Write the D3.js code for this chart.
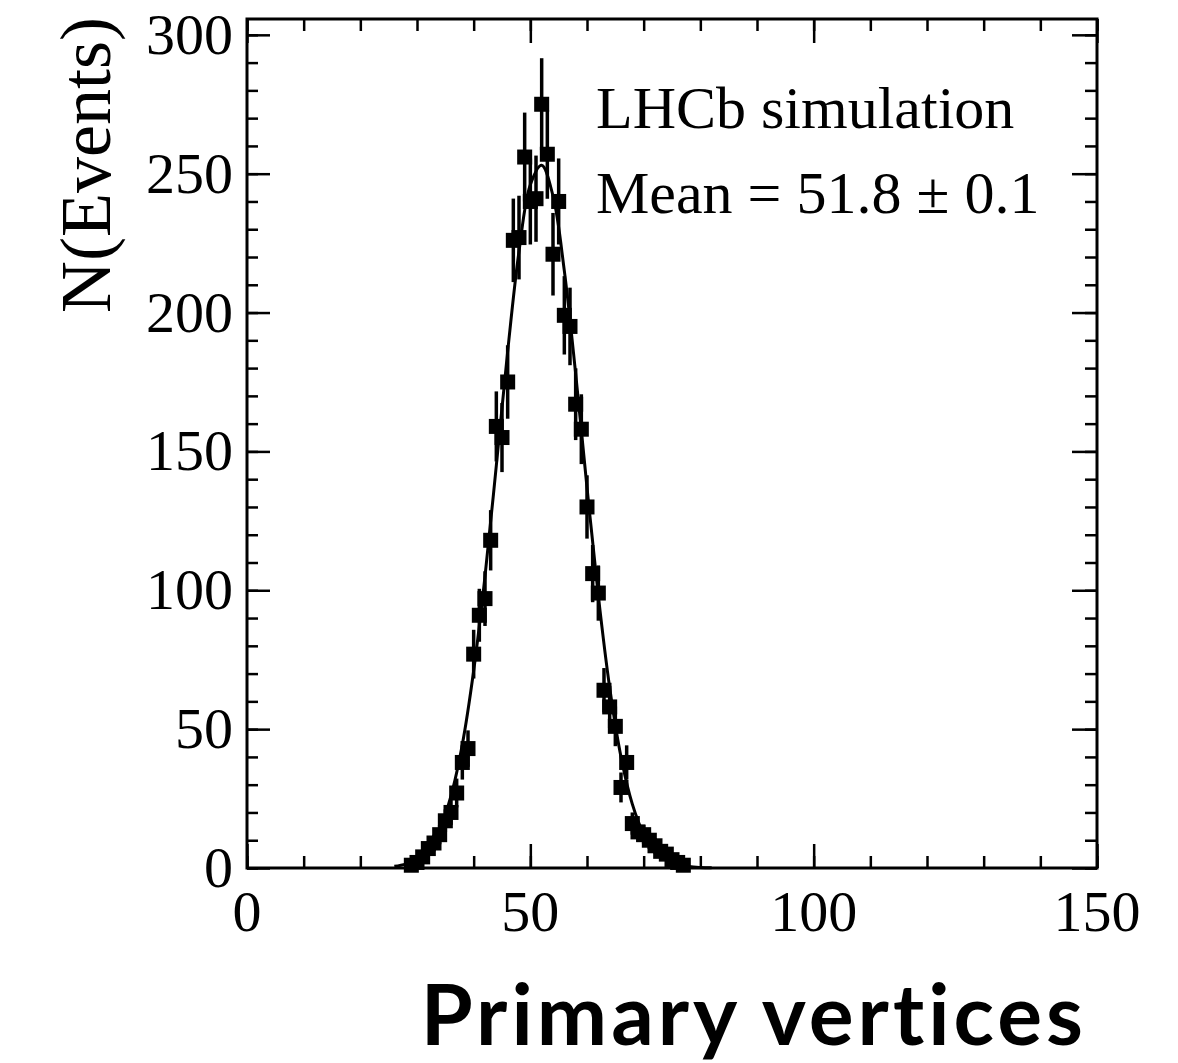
<!DOCTYPE html>
<html>
<head>
<meta charset="utf-8">
<script src="https://cdn.jsdelivr.net/npm/d3@7"></script>
<style>
  body { margin: 0; background: #fff; }
  svg { display: block; }
</style>
</head>
<body>
<div id="chart-area"></div>
<script>
// histogram bins (number of primary vertices) and event counts
var binCenters = [29, 30, 31, 32, 33, 34, 35, 36, 37, 38, 39, 40, 41, 42, 43, 44, 45, 46, 47, 48,
  49, 50, 51, 52, 53, 54, 55, 56, 57, 58, 59, 60, 61, 62, 63, 64, 65, 66, 67, 68,
  69, 70, 71, 72, 73, 74, 75, 76, 77];
var counts = [1, 2, 4, 7, 9, 12, 17, 20, 27, 38, 43, 77, 91, 97, 118, 159, 155, 175, 226, 227,
  256, 240, 241, 275, 257, 221, 240, 199, 195, 167, 158, 130, 106, 99, 64, 58, 51, 29, 38, 16,
  13, 12, 10, 8, 6, 5, 3, 2, 1];

// fitted curve
var fitX = [26, 28, 30, 32, 34, 36, 38, 40, 42, 44, 46, 48, 50, 52, 54, 56, 58, 60, 62, 64,
  66, 68, 70, 72, 74, 76, 78, 80, 82];
var fitY = [0.6, 1.4, 3.3, 7.1, 14, 26, 44.5, 71, 105, 145, 186, 222, 246, 253, 242, 215, 178, 137, 98, 65,
  40, 23, 12.3, 6.1, 2.8, 1.2, 0.5, 0.2, 0.07];

var xMajorTicks = [0, 50, 100, 150];
var yMajorTicks = [0, 50, 100, 150, 200, 250, 300];
var legendLines = ["LHCb simulation", "Mean = 51.8 \u00b1 0.1"];

function drawChart() {
  var W = 1178, H = 1063;
  var margin = { left: 247, right: 1097, top: 19, bottom: 868 };

  var svg = d3
    .select("#chart-area")
    .append("svg")
    .attr("xmlns", "http://www.w3.org/2000/svg")
    .attr("width", W)
    .attr("height", H);

  var x = d3.scaleLinear().domain([0, 150]).range([margin.left, margin.right]);
  var y = d3.scaleLinear().domain([0, 305.7]).range([margin.bottom, margin.top]);

  var serif = "'Liberation Serif', 'Times New Roman', serif";

  /*---- axes (ticks inside, on all four sides) ---- */
  function tickGroup(axis, tr) {
    var g = svg.append("g").attr("transform", tr).call(axis);
    g.select(".domain").remove();
    g.selectAll(".tick line").attr("stroke", "#000").attr("stroke-width", 2.5);
    return g;
  }

  var xMinor = d3.range(0, 151, 10);
  var yMinor = d3.range(0, 301, 10);
  var atBottom = "translate(0," + margin.bottom + ")";
  var atTop = "translate(0," + margin.top + ")";
  var atLeft = "translate(" + margin.left + ",0)";
  var atRight = "translate(" + margin.right + ",0)";

  tickGroup(d3.axisTop(x).tickValues(xMinor).tickSize(12).tickFormat(""), atBottom);
  tickGroup(d3.axisTop(x).tickValues(xMajorTicks).tickSize(24).tickFormat(""), atBottom);
  tickGroup(d3.axisBottom(x).tickValues(xMinor).tickSize(12).tickFormat(""), atTop);
  tickGroup(d3.axisBottom(x).tickValues(xMajorTicks).tickSize(24).tickFormat(""), atTop);
  tickGroup(d3.axisRight(y).tickValues(yMinor).tickSize(11).tickFormat(""), atLeft);
  tickGroup(d3.axisRight(y).tickValues(yMajorTicks).tickSize(23).tickFormat(""), atLeft);
  tickGroup(d3.axisLeft(y).tickValues(yMinor).tickSize(12).tickFormat(""), atRight);
  tickGroup(d3.axisLeft(y).tickValues(yMajorTicks).tickSize(25).tickFormat(""), atRight);

  // frame
  svg
    .append("rect")
    .attr("x", margin.left)
    .attr("y", margin.top)
    .attr("width", margin.right - margin.left)
    .attr("height", margin.bottom - margin.top)
    .attr("fill", "none")
    .attr("stroke", "#000")
    .attr("stroke-width", 3);

  // tick labels
  svg
    .selectAll(".x-label")
    .data(xMajorTicks)
    .enter()
    .append("text")
    .attr("class", "x-label")
    .attr("x", function (d) { return x(d); })
    .attr("y", 931)
    .attr("text-anchor", "middle")
    .attr("font-family", serif)
    .attr("font-size", "58px")
    .text(function (d) { return d; });

  svg
    .selectAll(".y-label")
    .data(yMajorTicks)
    .enter()
    .append("text")
    .attr("class", "y-label")
    .attr("x", 233)
    .attr("y", function (d) { return y(d) + 19; })
    .attr("text-anchor", "end")
    .attr("font-family", serif)
    .attr("font-size", "58px")
    .text(function (d) { return d; });

  svg
    .append("text")
    .attr("class", "y-axis-label")
    .attr("transform", "translate(110," + (margin.top - 2) + ") rotate(-90)")
    .attr("text-anchor", "end")
    .attr("font-family", serif)
    .attr("font-size", "72px")
    .text("N(Events)");

  /*---- fit curve ---- */
  var fitData = fitX.map(function (d, i) { return [d, fitY[i]]; });
  svg
    .append("path")
    .datum(fitData)
    .attr("fill", "none")
    .attr("stroke", "#000")
    .attr("stroke-width", 3)
    .attr(
      "d",
      d3
        .line()
        .x(function (d) { return x(d[0]); })
        .y(function (d) { return y(d[1]); })
        .curve(d3.curveCatmullRom)
    );

  /*---- data points with poisson errors ---- */
  var points = binCenters.map(function (d, i) { return { bin: d, n: counts[i] }; });

  svg
    .selectAll(".err")
    .data(points)
    .enter()
    .append("line")
    .attr("class", "err")
    .attr("x1", function (d) { return x(d.bin); })
    .attr("x2", function (d) { return x(d.bin); })
    .attr("y1", function (d) { return y(d.n + Math.sqrt(d.n)); })
    .attr("y2", function (d) { return y(Math.max(0, d.n - Math.sqrt(d.n))); })
    .attr("stroke", "#000")
    .attr("stroke-width", 3.5);

  svg
    .selectAll(".marker")
    .data(points)
    .enter()
    .append("rect")
    .attr("class", "marker")
    .attr("x", function (d) { return x(d.bin) - 7.5; })
    .attr("y", function (d) { return y(d.n) - 7.5; })
    .attr("width", 15)
    .attr("height", 15)
    .attr("fill", "#000");

  /*---- legend text ---- */
  svg
    .selectAll(".legend")
    .data(legendLines)
    .enter()
    .append("text")
    .attr("class", "legend")
    .attr("x", 596)
    .attr("y", function (d, i) { return 128 + i * 85; })
    .attr("font-family", serif)
    .attr("font-size", "60px")
    .text(function (d) { return d; });

  svg
    .append("text")
    .attr("class", "x-axis-label")
    .attr("x", 1087)
    .attr("y", 1045)
    .attr("text-anchor", "end")
    .attr("font-family", "Lato, 'Open Sans', sans-serif")
    .attr("font-weight", "bold")
    .attr("font-size", "84px")
    .attr("letter-spacing", "4px")
    .style("font-variant-ligatures", "none")
    .text("Primary vertices");
}

drawChart();
</script>
</body>
</html>
